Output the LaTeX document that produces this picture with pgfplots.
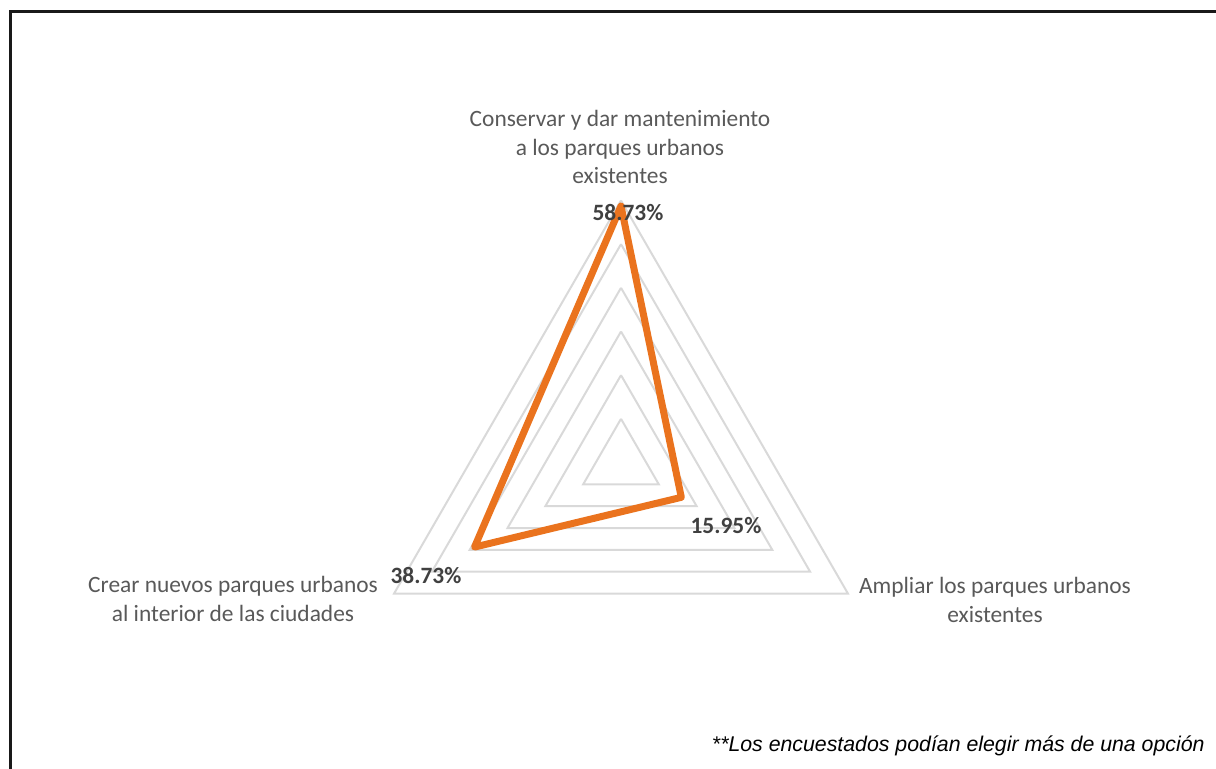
\documentclass[border=0pt]{standalone}
\usepackage{pgfplots}
\pgfplotsset{compat=1.18}
\usepgfplotslibrary{polar}
\usepackage{fontspec}
\setmainfont{Carlito}
\newfontfamily\arialfont{Liberation Sans}
\definecolor{gridc}{RGB}{217,217,217}
\definecolor{orangec}{RGB}{234,115,30}
\definecolor{labc}{RGB}{89,89,89}
\definecolor{valc}{RGB}{64,64,64}
\begin{document}
\begin{tikzpicture}[x=0.5pt,y=0.5pt]
\begin{polaraxis}[
  at={(310.5pt,152.75pt)}, anchor=center,
  hide axis, scale only axis, clip=false,
  width=262pt, height=262pt,
  xmin=0, xmax=360, ymin=0, ymax=60,
]
\addplot[gridc, line width=1pt] coordinates {(90,10) (210,10) (330,10) (90,10)};
\addplot[gridc, line width=1pt] coordinates {(90,20) (210,20) (330,20) (90,20)};
\addplot[gridc, line width=1pt] coordinates {(90,30) (210,30) (330,30) (90,30)};
\addplot[gridc, line width=1pt] coordinates {(90,40) (210,40) (330,40) (90,40)};
\addplot[gridc, line width=1pt] coordinates {(90,50) (210,50) (330,50) (90,50)};
\addplot[gridc, line width=1pt] coordinates {(90,60) (210,60) (330,60) (90,60)};
\addplot[orangec, line width=3.5pt, line join=round, line cap=round] coordinates {(90,58.73) (330,15.95) (210,38.73) (90,58.73)};
\end{polaraxis}
\fontsize{11.7}{14.3}\selectfont
\node[labc, align=center] at (620,621) {Conservar y dar mantenimiento\\a los parques urbanos\\existentes};
\node[labc, align=center] at (995,168) {Ampliar los parques urbanos\\existentes};
\node[labc, align=center] at (233,169) {Crear nuevos parques urbanos\\al interior de las ciudades};
\node[valc, font=\bfseries] at (628,555) {58.73\%};
\node[valc, font=\bfseries] at (726,242) {15.95\%};
\node[valc, font=\bfseries] at (426,192) {38.73\%};
\node[anchor=east, inner sep=0pt, font=\arialfont\itshape\fontsize{10.65}{12.5}\selectfont] at (1205,22) {**Los encuestados podían elegir más de una opción};
\draw[line width=1.5pt, black!90] (10.5,-10) -- (10.5,756.5) -- (1230,756.5);
\pgfresetboundingbox
\path[use as bounding box] (0,0) rectangle (1216,768);
\end{tikzpicture}
\end{document}
